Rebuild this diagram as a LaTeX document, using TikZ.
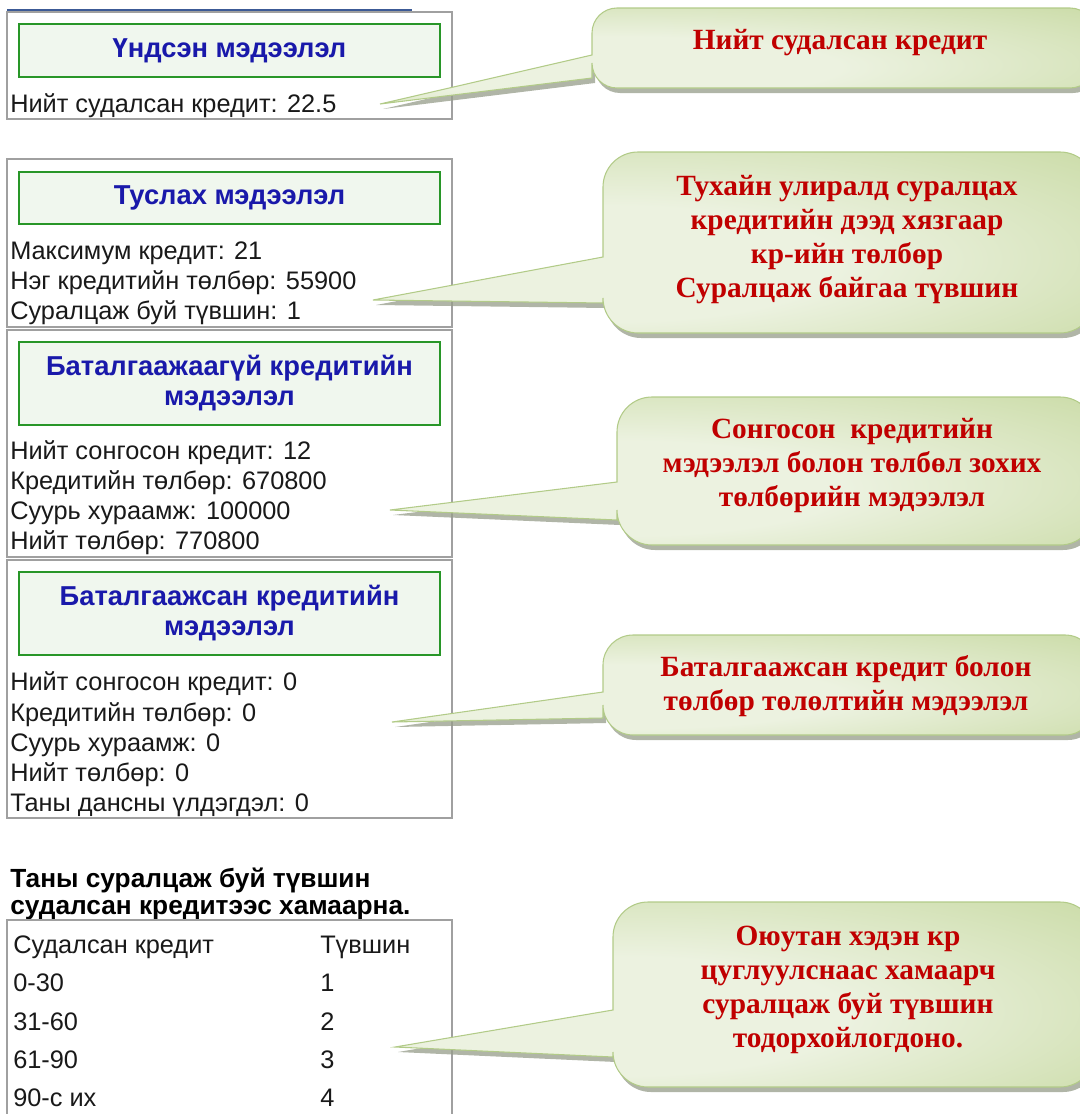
\documentclass[tikz,border=0pt]{standalone}
\usepackage{fontspec}
\setmainfont{Liberation Sans}
\newfontfamily\notefont{Liberation Serif}
\usepackage{xcolor}

\definecolor{panelgray}{RGB}{160,160,160}
\definecolor{barblue}{RGB}{60,90,150}
\definecolor{headgreen}{RGB}{40,150,40}
\definecolor{headfill}{RGB}{240,247,238}
\definecolor{headblue}{RGB}{25,25,170}
\definecolor{notered}{RGB}{192,0,0}
\definecolor{balloonlight}{RGB}{236,242,224}
\definecolor{balloondark}{RGB}{196,215,156}
\definecolor{balloonedge}{RGB}{178,203,136}
\definecolor{shadowgray}{RGB}{150,156,138}

\pgfdeclareradialshading{balloonshade}{\pgfpoint{-12bp}{-8bp}}{color(0bp)=(balloonlight); color(16bp)=(balloonlight); color(46bp)=(balloondark); color(60bp)=(balloondark)}

\tikzset{
  panel/.style={draw=panelgray, line width=1.5},
  headbox/.style={draw=headgreen, fill=headfill, line width=1.5, minimum width=315.75pt, align=center,
    text=headblue, font=\fontsize{20.5}{22.5}\selectfont\bfseries},
  infoline/.style={anchor=west, inner sep=0pt, text=black!90, font=\fontsize{19}{22}\selectfont},
  notetext/.style={align=center, text=notered, font=\notefont\fontsize{22}{25.5}\selectfont\bfseries},
  balloon/.style={draw=balloonedge, line width=0.8, shading=balloonshade},
  balloonshadow/.style={fill=shadowgray, opacity=0.75},
}

% #1 left, #2 top, #3 bottom, #4 pointer base top, #5 pointer base bottom, #6 tip, #7 corner radius
\newcommand{\drawballoon}[7]{%
  \path[balloonshadow, shift={(3,5)}] ([shift={(3,5)}]#6) -- (#1,#4) -- (#1,#2+#7)
    arc[start angle=180, end angle=270, radius=#7] -- (1095-#7,#2)
    arc[start angle=270, end angle=360, radius=#7] -- (1095,#3-#7)
    arc[start angle=0, end angle=90, radius=#7] -- (#1+#7,#3)
    arc[start angle=90, end angle=180, radius=#7] -- (#1,#5) -- cycle;
  \path[balloon] (#6) -- (#1,#4) -- (#1,#2+#7)
    arc[start angle=180, end angle=270, radius=#7] -- (1095-#7,#2)
    arc[start angle=270, end angle=360, radius=#7] -- (1095,#3-#7)
    arc[start angle=0, end angle=90, radius=#7] -- (#1+#7,#3)
    arc[start angle=90, end angle=180, radius=#7] -- (#1,#5) -- cycle;
}

\begin{document}
\begin{tikzpicture}[x=0.75pt, y=0.75pt, yscale=-1]
\useasboundingbox (0,0) rectangle (1079,1114);

% left panels
\draw[color=barblue, line width=1.5] (7,10) -- (412,10);
\draw[panel] (7,12) rectangle (452,119);
\draw[panel] (7,159) rectangle (452,327);
\draw[panel] (7,330) rectangle (452,557);
\draw[panel] (7,560) rectangle (452,818);

\node[headbox, minimum height=39.75pt] (basic) at (229.5,50.5) {Үндсэн мэдээлэл};
\node[headbox, minimum height=39pt] (extra) at (229.5,198) {Туслах мэдээлэл};
\node[headbox, minimum height=62.25pt] (pending) at (229.5,383.5) {Баталгаажаагүй кредитийн\\мэдээлэл};
\node[headbox, minimum height=62.25pt] (approved) at (229.5,613.5) {Баталгаажсан кредитийн\\мэдээлэл};

\node[infoline] (studied) at (10,106) {Нийт судалсан кредит: 22.5};

\node[infoline] (maxcr) at (10,253) {Максимум кредит: 21};
\node[infoline] (unitfee) at (10,283) {Нэг кредитийн төлбөр: 55900};
\node[infoline] (level) at (10,313) {Суралцаж буй түвшин: 1};

\node[infoline] (pchosen) at (10,453) {Нийт сонгосон кредит: 12};
\node[infoline] (pfee) at (10,483) {Кредитийн төлбөр: 670800};
\node[infoline] (pbase) at (10,513) {Суурь хураамж: 100000};
\node[infoline] (ptotal) at (10,543) {Нийт төлбөр: 770800};

\node[infoline] (achosen) at (10,684) {Нийт сонгосон кредит: 0};
\node[infoline] (afee) at (10,715) {Кредитийн төлбөр: 0};
\node[infoline] (abase) at (10,745) {Суурь хураамж: 0};
\node[infoline] (atotal) at (10,775) {Нийт төлбөр: 0};
\node[infoline] (balance) at (10,805) {Таны дансны үлдэгдэл: 0};

% level table
\node[infoline, align=left, text=black, font=\fontsize{19.7}{20.25}\selectfont\bfseries] (tablehead) at (10,894)
  {Таны суралцаж буй түвшин\\судалсан кредитээс хамаарна.};
\draw[panel] (7,1120) -- (7,920) -- (452,920) -- (452,1120);
\node[infoline] (colcr) at (13,947) {Судалсан кредит};
\node[infoline] (collvl) at (320,947) {Түвшин};
\foreach \rng/\lvl [count=\i] in {0-30/1, 31-60/2, 61-90/3, 90-с их/4}{
  \node[infoline] (rng\i) at (13,983+38.3*\i-38.3) {\rng};
  \node[infoline] (lvl\i) at (320,983+38.3*\i-38.3) {\lvl};
}

% callouts
\coordinate (tip1) at (380,104);
\coordinate (tip2) at (373,300);
\coordinate (tip3) at (390,510);
\coordinate (tip4) at (392,722);
\coordinate (tip5) at (395,1047);

\drawballoon{592}{8}{88}{55}{78}{tip1}{25}
\drawballoon{603}{152}{333}{257}{303}{tip2}{35}
\drawballoon{617}{397}{545}{482}{520}{tip3}{35}
\drawballoon{603}{635}{735}{692}{718}{tip4}{30}
\drawballoon{613}{902}{1087}{1010}{1057}{tip5}{35}

\node[notetext] (note1) at (840,43) {Нийт судалсан кредит};
\node[notetext] (note2) at (847,240) {Тухайн улиралд суралцах\\кредитийн дээд хязгаар\\кр-ийн төлбөр\\Суралцаж байгаа түвшин};
\node[notetext] (note3) at (852,466) {Сонгосон\ \ кредитийн\\мэдээлэл болон төлбөл зохих\\төлбөрийн мэдээлэл};
\node[notetext] (note4) at (846,686) {Баталгаажсан кредит болон\\төлбөр төлөлтийн мэдээлэл};
\node[notetext] (note5) at (848,990) {Оюутан хэдэн кр\\цуглуулснаас хамаарч\\суралцаж буй түвшин\\тодорхойлогдоно.};
\end{tikzpicture}
\end{document}
